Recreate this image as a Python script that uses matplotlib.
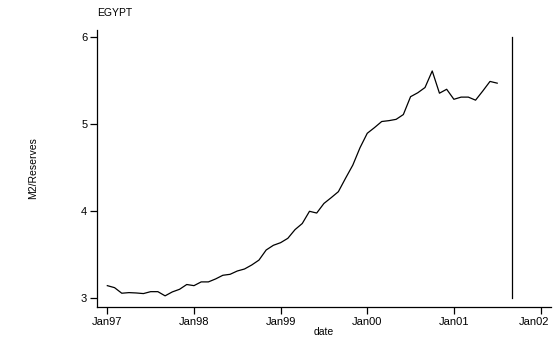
import numpy as np
import matplotlib
matplotlib.use('Agg')
import matplotlib.pyplot as plt
import matplotlib.transforms as mtransforms

plt.rcParams['font.family'] = ['Liberation Sans', 'DejaVu Sans']

# monthly M2/Reserves for Egypt, Jan97 .. Jul01
months = np.arange(55)  # months since Jan 1997
ratio = [3.147, 3.124, 3.060, 3.067, 3.063, 3.056, 3.078, 3.078, 3.030, 3.075, 3.105, 3.160,
         3.147, 3.190, 3.190, 3.224, 3.266, 3.277, 3.315, 3.338, 3.384, 3.440, 3.556, 3.610,
         3.640, 3.690, 3.790, 3.860, 4.000, 3.980, 4.090, 4.156, 4.225, 4.380, 4.530, 4.730,
         4.895, 4.960, 5.030, 5.040, 5.055, 5.110, 5.315, 5.360, 5.420, 5.610, 5.355, 5.400,
         5.285, 5.310, 5.310, 5.275, 5.380, 5.490, 5.470]
tick_pos = [0, 12, 24, 36, 48, 60]
tick_labels = ['Jan97', 'Jan98', 'Jan99', 'Jan00', 'Jan01', 'Jan02']
y_ticks = [3, 4, 5, 6]
event_month = 56  # Sep 2001 marker

fig = plt.figure(figsize=(5.53, 3.39), dpi=100)
ax = fig.add_axes([97/553, 1 - 307/339, (551 - 97)/553, (307 - 30)/339])

ax.plot(months, ratio, color='black', lw=0.9)
ax.plot([event_month, event_month], [3, 6], color='black', lw=0.9)

ax.set_xlim(-1.43, 61.45)
ax.set_ylim(2.902, 6.08)
ax.set_xticks(tick_pos)
ax.set_xticklabels(tick_labels)
ax.set_yticks(y_ticks)

ax.spines['top'].set_visible(False)
ax.spines['right'].set_visible(False)
for s in ['left', 'bottom']:
    ax.spines[s].set_linewidth(0.9)
ax.tick_params(axis='both', length=5, width=0.9, labelsize=8, pad=2)

# keep the last date label inside the canvas
last = ax.get_xticklabels()[-1]
last.set_transform(last.get_transform() + mtransforms.ScaledTranslation(-6/100, 0, fig.dpi_scale_trans))

ax.set_xlabel('date', fontsize=7.5, labelpad=0)
ax.set_ylabel('M2/Reserves', fontsize=7.5)
ax.yaxis.set_label_coords(-0.13, 0.5)
ax.set_title('EGYPT', fontsize=7.5, loc='left', pad=10)

fig.savefig('out.png', dpi=100)
